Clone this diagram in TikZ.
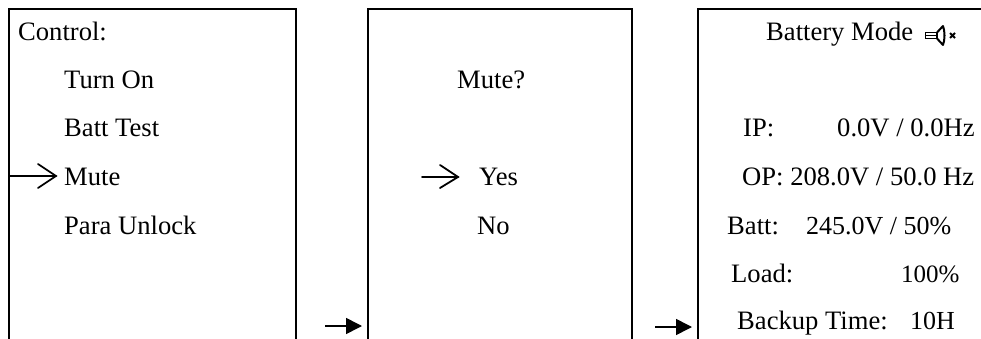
\documentclass[tikz,border=0pt]{standalone}
\usepackage{fontspec}
\setmainfont{Liberation Serif}
\usetikzlibrary{arrows.meta}
\tikzset{
  x=1pt,y=-1pt,
  panel/.style={line width=2pt,draw=black},
  txt/.style={inner sep=0pt,font=\fontsize{26.6}{30}\selectfont,text=black,anchor=base west},
  flow/.style={line width=1.6pt,-{Triangle[length=16pt,width=16pt]}},
  pointer/.style={line width=1.8pt,line cap=round,line join=miter},
}
\begin{document}
\begin{tikzpicture}
\useasboundingbox (0,0) rectangle (981,339);
% panels
\draw[panel] (9,339) -- (9,9.5) -- (296,9.5) -- (296,339);
\draw[panel] (368,339) -- (368,9.5) -- (632,9.5) -- (632,339);
\draw[panel] (698,339) -- (698,9.5) -- (981,9.5);
% panel 1
\node[txt] (c0) at (18,41) {Control:};
\node[txt] (c1) at (64,89) {Turn On};
\node[txt] (c2) at (64,137) {Batt Test};
\node[txt] (c3) at (64,185) {Mute};
\node[txt] (c4) at (64,234) {Para Unlock};
\coordinate (p1a) at (9,176);
\coordinate (p1b) at (56,176);
\draw[pointer] (p1a) -- (p1b);
\draw[pointer] (38,164) -- (p1b) -- (38,188);
% panel 2
\node[txt] (m0) at (457,89) {Mute?};
\node[txt] (m1) at (479,185) {Yes};
\node[txt] (m2) at (477,234) {No};
\coordinate (p2a) at (422,177);
\coordinate (p2b) at (458,177);
\draw[pointer] (p2a) -- (p2b);
\draw[pointer] (440,165) -- (p2b) -- (440,188);
% panel 3
\node[txt] (b0) at (766,41) {Battery Mode};
\node[txt] (b1) at (743,137) {IP:};
\node[txt] (b1v) at (837,137) {0.0V / 0.0Hz};
\node[txt] (b2) at (742,185) {OP: 208.0V / 50.0 Hz};
\node[txt] (b3) at (727,234) {Batt:};
\node[txt,font=\fontsize{26}{30}\selectfont] (b3v) at (806,234) {245.0V / 50\%};
\node[txt] (b4) at (731,282) {Load:};
\node[txt,font=\fontsize{25}{30}\selectfont] (b4v) at (901,282) {100\%};
\node[txt] (b5) at (737,329) {Backup Time:};
\node[txt,font=\fontsize{26}{30}\selectfont] (b5v) at (910,329) {10H};
% mute icon
\draw[line width=1.9pt] (925.5,32.5) rectangle (937,38.5);
\draw[line width=1pt] (925.5,35.5) -- (937,35.5);
\draw[line width=2pt,line join=round] (937,32.5) -- (943,26) .. controls (945,31) and (945,40) .. (943,45) -- (937,38.5);
\draw[line width=1.9pt] (950,33) -- (955,38) (955,33) -- (950,38);
% flow arrows
\coordinate (f1a) at (325,326);
\coordinate (f1b) at (362,326);
\draw[flow] (f1a) -- (f1b);
\coordinate (f2a) at (655,327);
\coordinate (f2b) at (692,327);
\draw[flow] (f2a) -- (f2b);
\end{tikzpicture}
\end{document}
